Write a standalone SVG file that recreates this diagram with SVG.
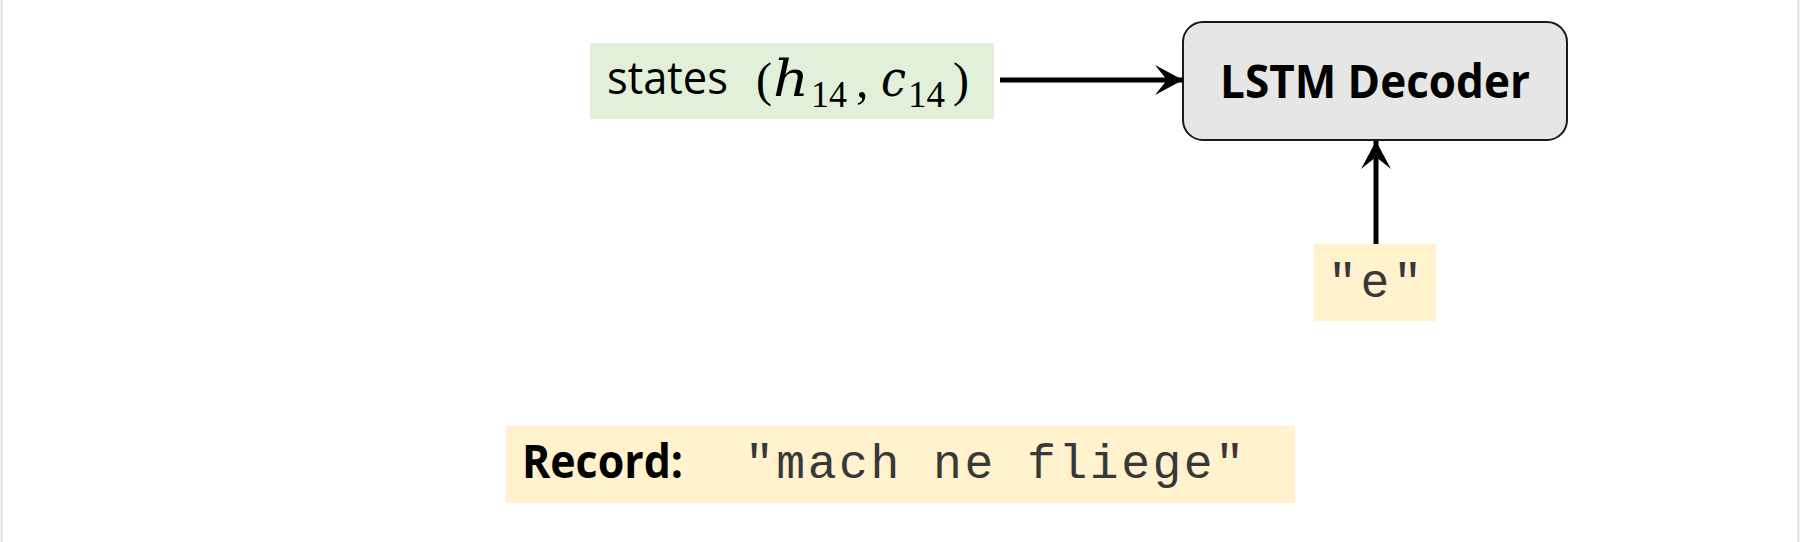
<svg xmlns="http://www.w3.org/2000/svg" width="1800" height="542" viewBox="0 0 1800 542">
<defs>
<marker id="ah" viewBox="0 0 32 32" refX="30" refY="16" markerWidth="32" markerHeight="32" markerUnits="userSpaceOnUse" orient="auto">
<path d="M30,16 L2,1 L14,16 L2,31 Z" fill="#000"/>
</marker>
</defs>
<style>
.sans{font-family:"Open Sans","Noto Sans","DejaVu Sans",sans-serif;fill:#000}
.bold{font-weight:bold}
.math{font-family:"DejaVu Serif","Liberation Serif",serif;font-style:italic;fill:#000}
.sub{font-family:"Liberation Serif","DejaVu Serif",serif;fill:#000}
.mono{font-family:"Liberation Mono","Courier New",monospace;fill:#383838}
.conn{stroke:#000;stroke-width:5;fill:none}
</style>
<rect x="0" y="0" width="1800" height="542" fill="#fff"/>
<line x1="1.5" y1="0" x2="1.5" y2="542" stroke="#e2e2e2" stroke-width="2"/>
<line x1="1798.5" y1="0" x2="1798.5" y2="542" stroke="#e2e2e2" stroke-width="2"/>
<g id="states">
<rect x="590" y="43" width="404" height="76" fill="#e2f0d9"/>
<text class="sans" x="607" y="94" font-size="46" textLength="121" lengthAdjust="spacingAndGlyphs">states</text>
<text class="sub" x="756" y="96" font-size="48">(</text>
<text class="math" x="773" y="96" font-size="50" textLength="36" lengthAdjust="spacingAndGlyphs">h</text>
<text class="sub" x="811" y="107" font-size="38" textLength="36" lengthAdjust="spacingAndGlyphs">14</text>
<text class="sub" x="856" y="97" font-size="50">,</text>
<text class="math" x="881" y="96" font-size="50" textLength="25" lengthAdjust="spacingAndGlyphs">c</text>
<text class="sub" x="908" y="107" font-size="38" textLength="37" lengthAdjust="spacingAndGlyphs">14</text>
<text class="sub" x="953" y="96" font-size="48">)</text>
</g>
<g id="decoder">
<rect x="1183" y="22" width="384" height="118" rx="20" ry="20" fill="#e6e6e6" stroke="#1a1a1a" stroke-width="2"/>
<text class="sans bold" x="1375" y="98" font-size="47" text-anchor="middle" textLength="310" lengthAdjust="spacingAndGlyphs">LSTM Decoder</text>
</g>
<g id="input-e">
<rect x="1314" y="244" width="122" height="77" fill="#fff2cc"/>
<text class="mono" x="1375" y="297" font-size="48" text-anchor="middle" textLength="94" lengthAdjust="spacing">"e"</text>
</g>
<g id="record">
<rect x="506" y="426" width="789" height="77" fill="#fff2cc"/>
<text class="sans bold" x="522" y="478" font-size="47" textLength="161" lengthAdjust="spacingAndGlyphs">Record:</text>
<text class="mono" x="745" y="478" font-size="48" textLength="499" lengthAdjust="spacing">"mach ne fliege"</text>
</g>
<g id="connectors">
<line class="conn" x1="1000" y1="80" x2="1183" y2="80" marker-end="url(#ah)"/>
<line class="conn" x1="1376" y1="244" x2="1376" y2="141" marker-end="url(#ah)"/>
</g>
</svg>
